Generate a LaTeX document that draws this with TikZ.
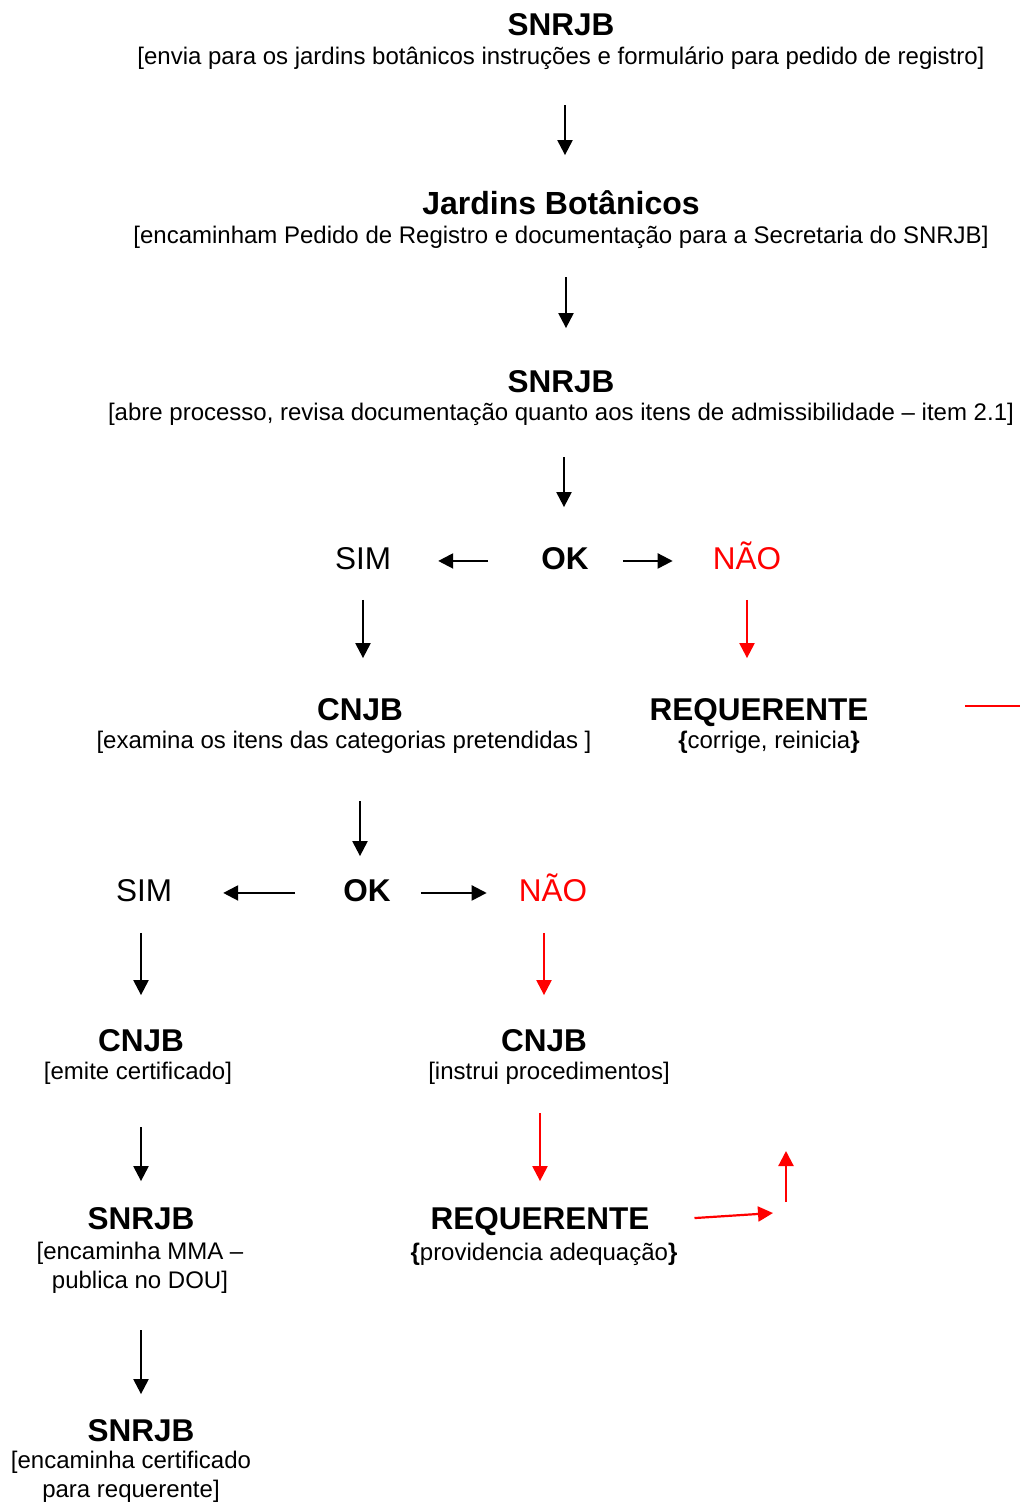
\documentclass[tikz,border=0pt]{standalone}
\usepackage{fontspec}
\setmainfont{Liberation Sans}
\usetikzlibrary{arrows.meta,positioning}

\begin{document}
\begin{tikzpicture}[
  x=1pt, y=-1pt,
  ttl/.style={anchor=base, inner sep=0pt, text height=22.7pt, text depth=6.6pt,
              font=\fontsize{31.5}{36}\selectfont\bfseries},
  opt/.style={anchor=base, inner sep=0pt, text height=22.7pt, text depth=6.6pt,
              font=\fontsize{31.5}{36}\selectfont},
  desc/.style={anchor=base, inner sep=0pt, text height=17.3pt, text depth=5pt,
               font=\fontsize{24}{29.5}\selectfont, align=center},
  arr/.style={-{Triangle[length=15pt,width=15pt]}, line width=2.2pt},
  rarr/.style={arr, red},
]
  \useasboundingbox (0,0) rectangle (1020,1502);

  \node[ttl] (t1) at (561,35) {SNRJB};
  \node[desc] (d1) at (561,64) {[envia para os jardins botânicos instruções e formulário para pedido de registro]};
  \node[ttl, font=\fontsize{32}{36}\selectfont\bfseries] (t2) at (561,214) {Jardins Botânicos};
  \node[desc] (d2) at (561,243) {[encaminham Pedido de Registro e documentação para a Secretaria do SNRJB]};
  \node[ttl] (t3) at (561,392) {SNRJB};
  \node[desc] (d3) at (561,420) {[abre processo, revisa documentação quanto aos itens de admissibilidade – item 2.1]};

  \node[ttl] (ok1) at (565,569) {OK};
  \node[opt] (sim1) at (363,569) {SIM};
  \node[opt, red] (nao1) at (747,569) {NÃO};

  \node[ttl] (t4) at (360,720) {CNJB};
  \node[desc] (d4) at (344,748) {[examina os itens das categorias pretendidas ]};
  \node[ttl] (req1) at (759,720) {REQUERENTE};
  \node[desc] (dr1) at (769,748) {\textbf{\{}corrige, reinicia\textbf{\}}};

  \node[ttl] (ok2) at (367,901) {OK};
  \node[opt] (sim2) at (144,901) {SIM};
  \node[opt, red] (nao2) at (553,901) {NÃO};

  \node[ttl] (t5) at (141,1051) {CNJB};
  \node[desc] (d5) at (138,1079) {[emite certificado]};
  \node[ttl] (t6) at (544,1051) {CNJB};
  \node[desc] (d6) at (549,1079) {[instrui procedimentos]};

  \node[ttl] (t7) at (141,1229) {SNRJB};
  \node[desc, anchor=center, text height=, text depth=] (d7) at (140,1268) {[encaminha MMA –\\publica no DOU]};
  \node[ttl] (req2) at (540,1229) {REQUERENTE};
  \node[desc] (dr2) at (544,1260) {\textbf{\{}providencia adequação\textbf{\}}};

  \node[ttl] (t8) at (141,1441) {SNRJB};
  \node[desc, anchor=center, text height=, text depth=] (d8) at (131,1477) {[encaminha certificado\\para requerente]};

  \coordinate (ret1) at (965,706);
  \coordinate (ret2) at (1020,706);
  \coordinate (turn) at (773,1213);
  \coordinate (up1) at (786,1202);
  \coordinate (up2) at (786,1151);

  \draw[arr, shorten <=36pt, shorten >=36pt] (d1.south -| 565,0) -- (t2.north -| 565,0);
  \draw[arr, shorten <=29pt, shorten >=41pt] (d2.south -| 566,0) -- (t3.north -| 566,0);
  \draw[arr, shorten <=32pt, shorten >=39pt] (d3.south -| 564,0) -- (ok1.north -| 564,0);

  \draw[arr, shorten <=53pt, shorten >=47pt] (ok1.west) -- (sim1.east);
  \draw[arr, shorten <=34pt, shorten >=40pt] (ok1.east) -- (nao1.west);
  \draw[arr, shorten <=24pt, shorten >=39pt] (sim1.south) -- (sim1.south |- t4.north);
  \draw[rarr, shorten <=24pt, shorten >=39pt] (nao1.south) -- (nao1.south |- req1.north);
  \draw[red, line width=2.2pt] (ret1) -- (ret2);

  \draw[arr, shorten <=48pt, shorten >=22pt] (t4 |- d4.south) -- (t4 |- ok2.north);
  \draw[arr, shorten <=48pt, shorten >=51pt] (ok2.west) -- (sim2.east);
  \draw[arr, shorten <=30pt, shorten >=32pt] (ok2.east) -- (nao2.west);
  \draw[arr, shorten <=25pt, shorten >=33pt] (t5 |- sim2.south) -- (t5.north);
  \draw[rarr, shorten <=25pt, shorten >=33pt] (t6 |- nao2.south) -- (t6.north);

  \draw[arr, shorten <=43pt, shorten >=25pt] (t7 |- d5.south) -- (t7.north);
  \draw[rarr, shorten <=29pt, shorten >=25pt] (req2 |- d6.south) -- (req2.north);
  \draw[arr, shorten <=36pt, shorten >=24pt] (t8 |- d7.south) -- (t8.north);

  \draw[rarr, shorten <=45pt] (req2.east) -- (turn);
  \draw[rarr] (up1) -- (up2);
\end{tikzpicture}
\end{document}
